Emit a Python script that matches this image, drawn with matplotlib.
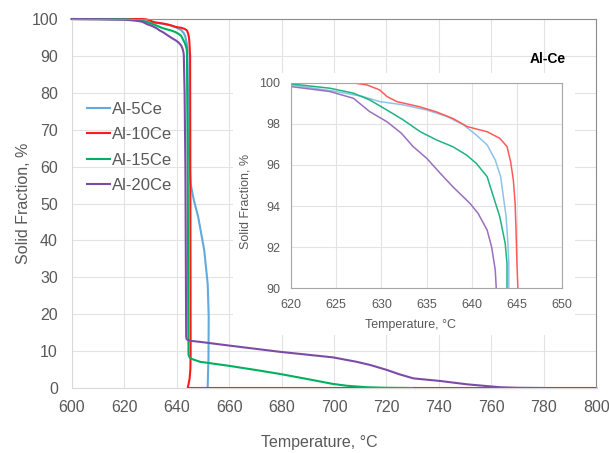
import matplotlib
matplotlib.use('Agg')
import matplotlib.pyplot as plt
from matplotlib.patches import Rectangle

plt.rcParams['font.family'] = ['Liberation Sans', 'DejaVu Sans']

# Solid fraction curves (temperature in C, solid fraction in %)
t_5ce = [600, 610, 620, 625, 627.9, 629.8, 632.4, 635.0, 637.2, 639.1, 640.5, 641.7, 642.6,
         643.2, 643.5, 643.8, 644.0, 644.1, 644.1, 644.3, 644.6, 645.3, 646.5, 648.2, 650.5,
         651.8, 652.2, 652.1, 651.8]
sf_5ce = [100, 99.97, 99.9, 99.58, 99.34, 99.09, 98.93, 98.68, 98.37, 97.95, 97.46, 96.98, 96.24,
          95.43, 94.45, 93.48, 92.18, 91.2, 90.07, 80, 65, 55.4, 51, 46.3, 37.3,
          28.3, 19.3, 8, 0.3]

t_10ce = [600, 620, 626.9, 628.4, 629.8, 630.6, 631.7, 634.2, 636.0, 637.9, 639.5, 641.7, 643.1,
          643.9, 644.3, 644.6, 644.8, 644.9, 645.0, 645.1, 645.2, 645.3, 645.2, 644.9, 644.5,
          644.2, 644.4, 660, 700, 800]
sf_10ce = [100, 100, 100, 99.9, 99.66, 99.34, 99.09, 98.84, 98.6, 98.27, 97.87, 97.62, 97.3,
           96.9, 96.16, 95.27, 94.13, 92.83, 91.2, 90.07, 50, 9, 5, 2.5, 1,
           0.2, 0, 0, 0, 0]

t_15ce = [600, 620, 624.3, 626.9, 628.7, 630.6, 632.4, 634.3, 636.1, 637.9, 639.4, 640.5, 641.7,
          642.4, 643.1, 643.7, 643.9, 643.9, 644.2, 644.4, 644.5, 645.0, 646, 648.9, 660, 670,
          679.4, 690, 699.6, 705, 712.6, 720, 730]
sf_15ce = [100, 99.95, 99.74, 99.5, 99.17, 98.68, 98.2, 97.62, 97.22, 96.89, 96.49, 96.08, 95.43,
           94.45, 93.48, 92.18, 91.2, 90.07, 60, 20, 9, 8.2, 7.8, 7.1, 6.0, 4.9,
           3.8, 2.4, 1.1, 0.6, 0.2, 0.05, 0]

t_20ce = [600, 610, 620, 624.3, 626.9, 628.7, 630.6, 632.2, 633.5, 635.0, 636.5, 637.9, 639.8,
          640.7, 641.7, 642.2, 642.6, 642.7, 643.0, 643.3, 643.5, 643.6, 643.8, 645, 648.9, 660,
          679.4, 699.6, 708.6, 714, 720.1, 725, 730.3, 740.5, 750.7, 763.4, 770, 780]
sf_20ce = [100, 99.95, 99.82, 99.58, 99.25, 98.6, 98.11, 97.55, 96.9, 96.33, 95.6, 94.94, 94.13,
           93.64, 92.83, 92.0, 90.88, 90.07, 80, 60, 30, 14, 13.2, 12.8, 12.5, 11.5,
           9.8, 8.3, 7.1, 6.2, 4.9, 3.7, 2.6, 1.9, 1.0, 0.2, 0.05, 0]

labels = ['Al-5Ce', 'Al-10Ce', 'Al-15Ce', 'Al-20Ce']
series = [(t_5ce, sf_5ce), (t_10ce, sf_10ce), (t_15ce, sf_15ce), (t_20ce, sf_20ce)]
main_colors = ['#62AADB', '#FF1A1A', '#00B060', '#7B4BA6']
inset_colors = ['#8EC3E6', '#FF5A5A', '#1DB47F', '#9A6FC0']

text_gray = '#595959'
grid_gray = '#E3E3E3'

fig = plt.figure(figsize=(6.09, 4.53), dpi=100)

# Main chart
ax = fig.add_axes([0.118, 0.1435, 0.861, 0.8145])
for (t, sf), lab, c in zip(series, labels, main_colors):
    ax.plot(t, sf, color=c, lw=1.5, label=lab, clip_on=False)
ax.set_xlim(600, 800)
ax.set_ylim(0, 100)
ax.set_xticks(range(600, 801, 20))
ax.set_yticks(range(0, 101, 10))
ax.grid(True, color=grid_gray, lw=0.8)
ax.set_axisbelow(True)
ax.tick_params(length=0, labelsize=11.5, labelcolor=text_gray)
ax.tick_params(axis='y', pad=10)
ax.tick_params(axis='x', pad=9)
for side in ['left', 'bottom']:
    ax.spines[side].set_color('#D9D9D9')
for side in ['top', 'right']:
    ax.spines[side].set_color('#8C8C8C')
ax.set_xlabel('Temperature, °C', fontsize=11.5, color=text_gray)
ax.xaxis.set_label_coords(0.471, -0.128)
ax.set_ylabel('Solid Fraction, %', fontsize=11.5, color=text_gray)
ax.yaxis.set_label_coords(-0.078, 0.5)
ax.legend(loc='upper left', bbox_to_anchor=(0.0, 0.816), frameon=False, fontsize=12,
          handlelength=1.4, handletextpad=0.1, labelspacing=0.62, labelcolor=text_gray)

# White backing box behind inset
fig.patches.append(Rectangle((0.3826, 0.2605), 0.5616, 0.578, transform=fig.transFigure,
                             facecolor='white', edgecolor='none', zorder=1))
fig.text(0.9, 0.87, 'Al-Ce', fontsize=10, fontweight='bold', color='black',
         ha='center', va='center', zorder=3)

# Inset
axi = fig.add_axes([0.478, 0.364, 0.445, 0.453])
axi.set_zorder(2)
for (t, sf), c in zip(series, inset_colors):
    axi.plot(t, sf, color=c, lw=1.1)
axi.set_xlim(620, 650)
axi.set_ylim(90, 100)
axi.set_xticks(range(620, 651, 5))
axi.set_yticks(range(90, 101, 2))
axi.grid(True, color=grid_gray, lw=0.8)
axi.set_axisbelow(True)
axi.tick_params(length=0, labelsize=9, labelcolor=text_gray)
axi.tick_params(axis='y', pad=8)
axi.tick_params(axis='x', pad=8)
for side in axi.spines:
    axi.spines[side].set_color('#A6A6A6')
axi.set_xlabel('Temperature, °C', fontsize=9, color=text_gray)
axi.xaxis.set_label_coords(0.44, -0.15)
axi.set_ylabel('Solid Fraction, %', fontsize=9, color=text_gray)
axi.yaxis.set_label_coords(-0.145, 0.42)

fig.savefig('out.png', dpi=100)
